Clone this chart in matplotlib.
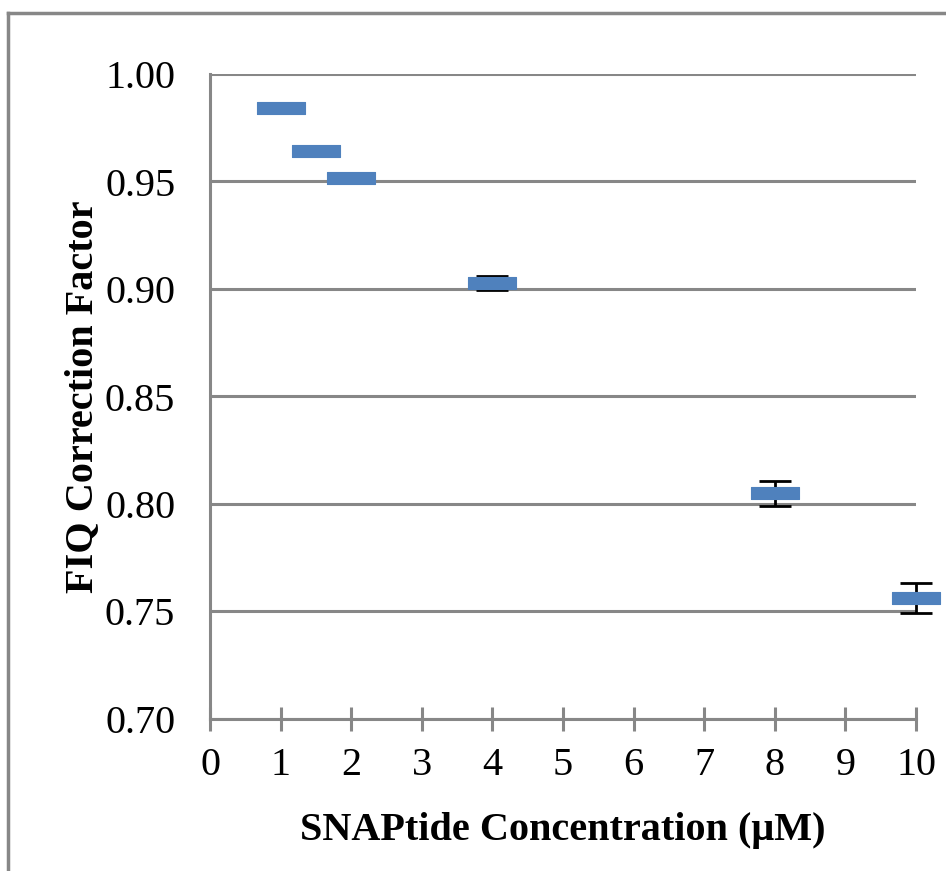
import matplotlib
matplotlib.use("Agg")
import matplotlib.pyplot as plt
from matplotlib.lines import Line2D
import numpy as np

# Data
conc = [1, 1.5, 2, 4, 8, 10]
fiq = [0.984, 0.964, 0.9515, 0.9028, 0.8049, 0.7562]
err = [0.001, 0.001, 0.001, 0.0031, 0.0056, 0.007]
xticks = list(range(0, 11))
yticks = [0.70, 0.75, 0.80, 0.85, 0.90, 0.95, 1.00]

plt.rcParams['font.family'] = ['Liberation Serif', 'DejaVu Serif']

fig = plt.figure(figsize=(9.46, 8.71), dpi=100)
ax = fig.add_axes([210/946, 1-719/871, (916-210)/946, (719-74)/871])

grey = '#878787'
ax.set_xlim(0, 10)
ax.set_ylim(0.70, 1.00)
ax.set_yticks(yticks)
ax.set_yticklabels([f"{v:.2f}" for v in yticks])
ax.set_xticks(xticks)
ax.yaxis.grid(True, color=grey, linewidth=2.2, zorder=0)
ax.set_axisbelow(True)
for s in ['top', 'right']:
    ax.spines[s].set_visible(False)
for s in ['left', 'bottom']:
    ax.spines[s].set_color(grey)
    ax.spines[s].set_linewidth(2.2)
ax.tick_params(axis='y', length=0, pad=25, labelsize=29)
ax.tick_params(axis='x', direction='inout', length=17, width=2.2, color=grey, pad=12, labelsize=29)

ax.errorbar(conc, fiq, yerr=err, fmt='none', ecolor='black', elinewidth=2,
            capsize=11.5, capthick=2, zorder=3, clip_on=False)
rect = [(-1, -0.234), (1, -0.234), (1, 0.234), (-1, 0.234), (-1, -0.234)]
ax.plot(conc, fiq, linestyle='none', marker=rect, markersize=34,
        markerfacecolor='#4F81BD', markeredgecolor='#4F81BD', markeredgewidth=0.8, zorder=4,
        clip_on=False)

ax.set_xlabel('SNAPtide Concentration (\u03bcM)', fontsize=29, fontweight='bold', labelpad=20)
ax.set_ylabel('FIQ Correction Factor', fontsize=29, fontweight='bold', labelpad=3)

# Figure border (top & left visible)
fig.add_artist(Line2D([8/946, 1], [1-13/871, 1-13/871], color=grey, linewidth=2.5,
                      transform=fig.transFigure))
fig.add_artist(Line2D([8/946, 8/946], [0, 1-13/871], color=grey, linewidth=2.5,
                      transform=fig.transFigure))

fig.savefig('out.png', dpi=100)
